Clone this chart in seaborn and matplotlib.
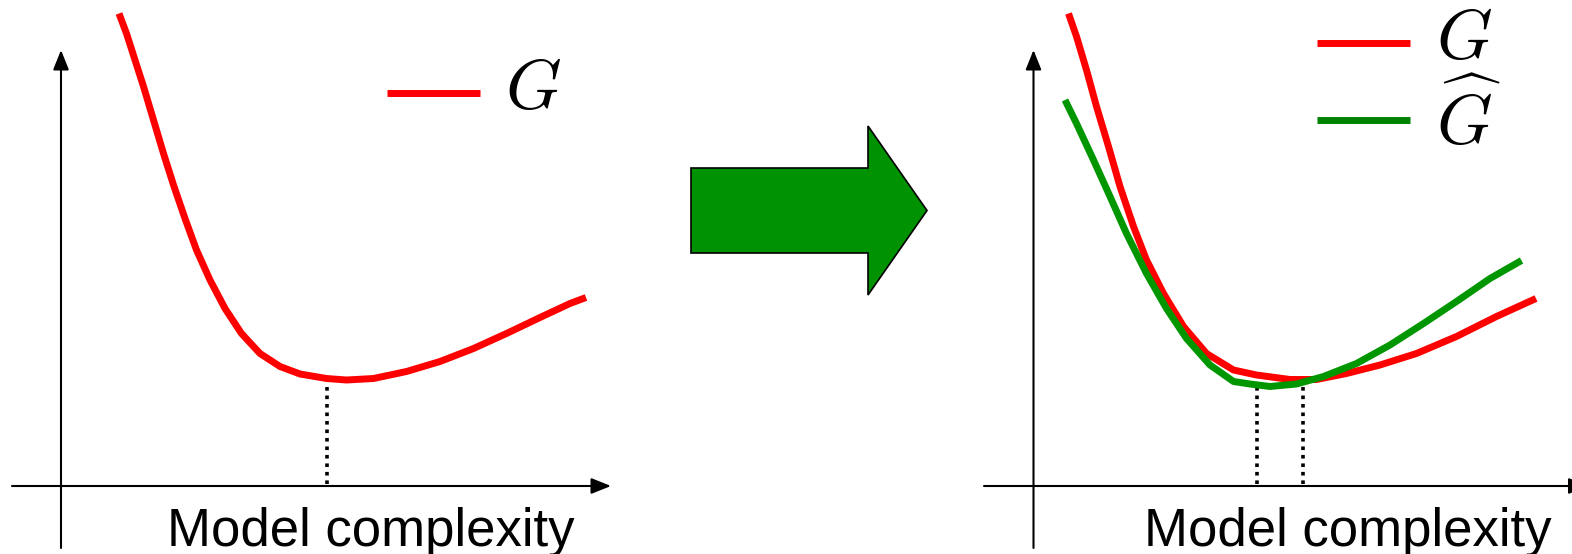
import numpy as np
import pandas as pd
import seaborn as sns
import matplotlib
matplotlib.use("Agg")
import matplotlib.pyplot as plt
from matplotlib.patches import FancyArrow

# ---- data: generalisation error vs. model complexity ----
# true error G (left panel)
g_left_x = [1.16, 1.31, 1.48, 1.65, 1.85, 2.05, 2.25, 2.48, 2.71, 2.98, 3.28, 3.61, 3.98,
            4.38, 4.78, 5.31, 5.71, 6.25, 6.91, 7.58, 8.25, 8.91, 9.58, 10.18, 10.50]
g_left_y = [9.45, 9.05, 8.52, 7.99, 7.32, 6.65, 6.02, 5.35, 4.72, 4.12, 3.55, 3.05, 2.65,
            2.39, 2.24, 2.15, 2.12, 2.15, 2.29, 2.49, 2.75, 3.05, 3.37, 3.65, 3.77]
g_left_opt = 5.31

# true error G (right panel)
g_right_x = [0.70, 0.86, 1.06, 1.26, 1.50, 1.73, 2.00, 2.26, 2.60, 3.00, 3.46, 4.00, 4.46,
             5.13, 5.66, 6.26, 6.93, 7.66, 8.46, 9.26, 10.05]
g_right_y = [9.45, 8.99, 8.32, 7.59, 6.79, 5.99, 5.19, 4.52, 3.85, 3.19, 2.65, 2.32, 2.22,
             2.13, 2.13, 2.25, 2.42, 2.65, 2.99, 3.39, 3.75]

# estimated error G-hat (right panel)
ghat_x = [0.63, 0.86, 1.20, 1.53, 1.86, 2.26, 2.66, 3.06, 3.53, 4.00, 4.33, 4.73, 5.26,
          5.80, 6.46, 7.13, 7.80, 8.46, 9.13, 9.76]
ghat_y = [7.72, 7.25, 6.52, 5.79, 5.05, 4.25, 3.55, 2.95, 2.42, 2.09, 2.04, 1.99, 2.04,
          2.19, 2.45, 2.82, 3.25, 3.69, 4.15, 4.51]
right_opts = [4.46, 5.38]

xlabel = "Model complexity"
label_g = r"$G$"
label_ghat = r"$\widehat{G}$"

RED = "#ff0000"
GREEN = "#009600"
GREEN_KEY = "#008200"
ARROW_GREEN = "#009200"

sns.set_theme(style="white")
plt.rcParams["font.family"] = ["Liberation Sans", "DejaVu Sans"]
plt.rcParams["mathtext.fontset"] = "cm"
plt.rcParams["text.color"] = "black"

W, H = 1572, 554
fig = plt.figure(figsize=(W / 100, H / 100), dpi=100)
fig.patch.set_facecolor("white")

CURVE_W = 5.0


def make_panel(left_px, width_px, origin_px):
    ax = fig.add_axes([left_px / W, 0, width_px / W, 1])
    ox, oy = origin_px
    ax.set_xlim(-(ox - left_px) / 50, (left_px + width_px - ox) / 50)
    ax.set_ylim(-(H - oy) / 50, oy / 50)
    ax.axis("off")
    return ax


def curve(ax, x, y, color):
    sns.lineplot(x=x, y=y, ax=ax, color=color, sort=False, legend=False)
    line = ax.get_lines()[-1]
    line.set_linewidth(CURVE_W)
    line.set_solid_capstyle("butt")
    line.set_solid_joinstyle("round")


def key(ax, x0, x1, y, color):
    ax.plot([x0, x1], [y, y], color=color, linewidth=CURVE_W,
            solid_capstyle="butt")


def draw_axes_arrows(ax, x0, x1, y0, y1):
    style = dict(arrowstyle="-|>,head_length=0.6,head_width=0.24",
                 color="black", linewidth=1.5, mutation_scale=20,
                 shrinkA=0, shrinkB=0)
    ax.annotate("", xy=(x1, 0), xytext=(x0, 0), arrowprops=style,
                annotation_clip=False)
    ax.annotate("", xy=(0, y1), xytext=(0, y0), arrowprops=style,
                annotation_clip=False)


def dotted(ax, x, top):
    ax.plot([x, x], [0.04, top], color="black", linewidth=2.6,
            linestyle=(0, (1, 1.35)))


# ---- left panel ----
axL = make_panel(0, 620, (61, 486))
draw_axes_arrows(axL, -0.98, 11.0, -1.24, 8.72)
dotted(axL, g_left_opt, 2.07)
curve(axL, g_left_x, g_left_y, RED)
key(axL, 6.52, 8.38, 7.87, RED)
axL.text(8.88, 7.93, label_g, fontsize=51, va="center", ha="left")
axL.text(2.12, -1.2, xlabel, fontsize=38, va="baseline", ha="left")

# ---- right panel ----
axR = make_panel(960, 612, (1033.5, 486))
draw_axes_arrows(axR, -0.99, 11.1, -1.24, 8.72)
for xo in right_opts:
    dotted(axR, xo, 1.99)
curve(axR, g_right_x, g_right_y, RED)
curve(axR, ghat_x, ghat_y, GREEN)
key(axR, 5.67, 7.53, 8.87, RED)
key(axR, 5.67, 7.53, 7.32, GREEN_KEY)
axR.text(8.05, 8.92, label_g, fontsize=51, va="center", ha="left")
axR.text(8.05, 7.30, label_ghat, fontsize=51, va="center", ha="left")
axR.text(2.2, -1.2, xlabel, fontsize=38, va="baseline", ha="left")

# ---- block arrow between the panels ----
axA = fig.add_axes([0, 0, 1, 1], zorder=-1)
axA.set_xlim(0, W)
axA.set_ylim(H, 0)
axA.axis("off")
axA.add_patch(FancyArrow(691, 210.5, 236, 0, width=85, head_width=169,
                         head_length=59, length_includes_head=True,
                         facecolor=ARROW_GREEN, edgecolor="black", linewidth=1.2))

fig.savefig("out.png", dpi=100, facecolor="white")
